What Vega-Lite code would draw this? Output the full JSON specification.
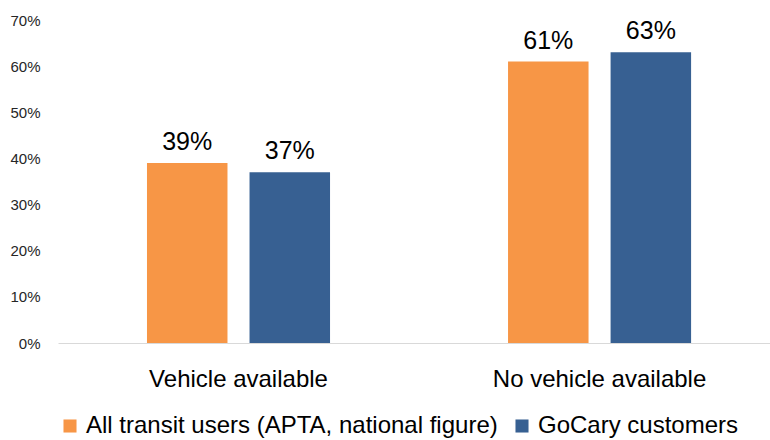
{
  "$schema": "https://vega.github.io/schema/vega-lite/v6.json",
  "autosize": {"type": "none"},
  "width": 712,
  "height": 323,
  "padding": {"left": 58, "top": 20, "right": 0, "bottom": 97},
  "background": "white",
  "config": {"view": {"stroke": null}, "font": "Liberation Sans"},
  "data": {"values": [
    {"category": "Vehicle available", "series": "All transit users (APTA, national figure)", "value": 0.39},
    {"category": "Vehicle available", "series": "GoCary customers", "value": 0.37},
    {"category": "No vehicle available", "series": "All transit users (APTA, national figure)", "value": 0.61},
    {"category": "No vehicle available", "series": "GoCary customers", "value": 0.63}
  ]},
  "encoding": {
    "x": {"field": "category", "type": "nominal", "sort": ["Vehicle available", "No vehicle available"],
      "scale": {"paddingInner": 0.493, "paddingOuter": 0.2325, "align": 0.53},
      "axis": {"title": null, "labelAngle": 0, "labelFontSize": 24, "labelColor": "#000", "labelPadding": 24, "labelLimit": 0, "ticks": false, "domainColor": "#d9d9d9", "domainWidth": 1}},
    "xOffset": {"field": "series", "type": "nominal", "scale": {"paddingInner": 0.215, "paddingOuter": 0}},
    "y": {"field": "value", "type": "quantitative", "scale": {"domain": [0, 0.7]},
      "axis": {"title": null, "format": ".0%", "values": [0, 0.1, 0.2, 0.3, 0.4, 0.5, 0.6, 0.7], "labelOverlap": false, "grid": false, "domain": false, "ticks": false, "labelFontSize": 15, "labelColor": "#262626", "labelPadding": 18}},
    "color": {"field": "series", "type": "nominal",
      "scale": {"domain": ["All transit users (APTA, national figure)", "GoCary customers"], "range": ["#F79646", "#376092"]},
      "legend": {"title": null, "orient": "bottom", "direction": "horizontal", "symbolType": "square", "symbolSize": 170, "symbolOpacity": 1, "labelFontSize": 24, "labelColor": "#000", "labelLimit": 0, "columnPadding": 12, "offset": 23}}
  },
  "layer": [
    {"mark": {"type": "bar"}},
    {"mark": {"type": "text", "baseline": "bottom", "dy": -8, "fontSize": 25},
      "encoding": {"text": {"field": "value", "type": "quantitative", "format": ".0%"}, "color": {"value": "#000"}}}
  ]
}
